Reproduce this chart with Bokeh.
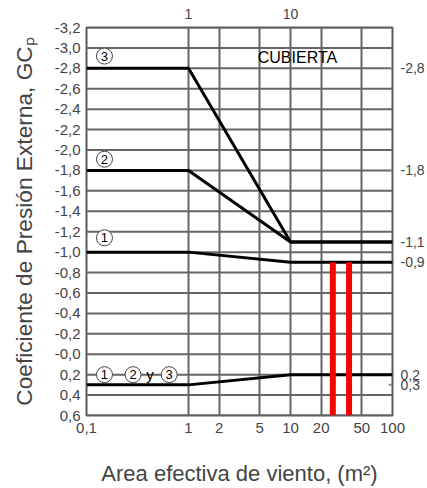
from bokeh.plotting import figure
from bokeh.models import Range1d, FixedTicker, LogAxis, LinearAxis
from bokeh.embed import file_html
from bokeh.resources import INLINE
from bokeh.core.properties import value

# ---- data ----
area = [0.1, 1, 10, 100]
zona3 = [-2.8, -2.8, -1.1, -1.1]
zona2 = [-1.8, -1.8, -1.1, -1.1]
zona1 = [-1.0, -1.0, -0.9, -0.9]
zonas_positiva = [0.3, 0.3, 0.2, 0.2]
areas_marcadas = [26, 37.5]

x_ticks = [0.1, 1, 2, 5, 10, 20, 50, 100]
x_labels = ["0,1", "1", "2", "5", "10", "20", "50", "100"]
x_top_ticks = [1, 10]
x_top_labels = ["1", "10"]
y_ticks = [-3.2, -3.0, -2.8, -2.6, -2.4, -2.2, -2.0, -1.8, -1.6, -1.4,
           -1.2, -1.0, -0.8, -0.6, -0.4, -0.2, 0.0, 0.2, 0.4, 0.6]
y_labels = ["-3,2", "-3,0", "-2,8", "-2,6", "-2,4", "-2,2", "-2,0", "-1,8",
            "-1,6", "-1,4", "-1,2", "-1,0", "-0,8", "-0,6", "-0,4", "-0,2",
            "-0,0", "0,2", "0,4", "0,6"]
y_right_ticks = [-2.8, -1.8, -1.1, -0.9, 0.2, 0.3]
y_right_labels = ["-2,8", "-1,8", "-1,1", "-0,9", "0,2", "0,3"]

zona_etiquetas = ["3", "2", "1", "1", "2", "3"]
# annotation anchor positions (layout)
etiqueta_x = [0.15, 0.15, 0.15, 0.15, 0.286, 0.647]
etiqueta_y = [-2.92, -1.91, -1.14, 0.2, 0.2, 0.2]

FONT = "Liberation Sans"
GRID = "#666666"
GRID_W = 2

p = figure(width=427, height=488, x_axis_type="log",
           x_range=Range1d(x_ticks[0], x_ticks[-1]),
           y_range=Range1d(y_ticks[-1], y_ticks[0]),
           output_backend="svg", toolbar_location=None,
           min_border_left=86, min_border_right=34,
           min_border_top=27, min_border_bottom=72,
           outline_line_color="#5a5a5a", outline_line_width=2)

# bottom axis
xa = p.xaxis[0]
xa.ticker = FixedTicker(ticks=x_ticks)
xa.major_label_overrides = dict(zip(x_ticks, x_labels))
xa.axis_label = "Area efectiva de viento, (m\u00b2)"
xa.axis_label_text_font = FONT
xa.axis_label_text_font_size = "22px"
xa.axis_label_text_font_style = "normal"
xa.axis_label_standoff = 25
xa.major_label_text_font = FONT
xa.major_label_text_font_size = "15px"
xa.major_label_standoff = 7
xa.major_tick_out = 0
xa.major_tick_in = 0
xa.minor_tick_out = 0
xa.minor_tick_in = 0
xa.axis_line_color = None

# left axis
ya = p.yaxis[0]
ya.ticker = FixedTicker(ticks=y_ticks)
ya.major_label_overrides = dict(zip(y_ticks, y_labels))
ya.axis_label = "Coeficiente de Presi\u00f3n Externa, GC\u209a"
ya.axis_label_text_font = FONT
ya.axis_label_text_font_size = "22.7px"
ya.axis_label_text_font_style = "normal"
ya.axis_label_standoff = 15
ya.major_label_text_font = FONT
ya.major_label_text_font_size = "15px"
ya.major_label_standoff = 6
ya.major_tick_out = 0
ya.major_tick_in = 0
ya.minor_tick_out = 0
ya.minor_tick_in = 0
ya.axis_line_color = None

# top axis
top = LogAxis(ticker=FixedTicker(ticks=x_top_ticks),
              major_label_overrides=dict(zip(x_top_ticks, x_top_labels)),
              major_label_text_font=FONT, major_label_text_font_size="14px",
              major_label_standoff=9, major_tick_out=0, major_tick_in=0,
              minor_tick_out=0, minor_tick_in=0, axis_line_color=None)
p.add_layout(top, "above")

# right axis
right = LinearAxis(ticker=FixedTicker(ticks=y_right_ticks),
                   major_label_overrides=dict(zip(y_right_ticks, y_right_labels)),
                   major_label_text_font=FONT, major_label_text_font_size="14px",
                   major_label_standoff=8, major_tick_out=0, major_tick_in=0,
                   minor_tick_out=0, minor_tick_in=0, axis_line_color=None)
p.add_layout(right, "right")

# vertical grid from the library grid
p.xgrid.ticker = FixedTicker(ticks=x_ticks)
p.xgrid.grid_line_color = GRID
p.xgrid.grid_line_width = GRID_W
p.xgrid.grid_line_alpha = 1.0
p.ygrid.visible = False
# horizontal grid lines (inverted range) drawn as lines through the scales
p.multi_line(xs=[[x_ticks[0], x_ticks[-1]] for _ in y_ticks],
             ys=[[t, t] for t in y_ticks],
             line_color=GRID, line_width=GRID_W)
# short inward tick of the right-hand scale
p.multi_line(xs=[[x_ticks[-1] * 0.92, x_ticks[-1]] for _ in y_right_ticks],
             ys=[[t, t] for t in y_right_ticks],
             line_color="#888888", line_width=2)

# curves
for serie in (zona3, zona2, zona1, zonas_positiva):
    p.line(area, serie, line_color="black", line_width=3)

# red markers
p.segment(x0=areas_marcadas, y0=[zona1[-1]] * len(areas_marcadas),
          x1=areas_marcadas, y1=[y_ticks[-1]] * len(areas_marcadas),
          line_color="#ff0000", line_width=6)

# zone labels
p.scatter(etiqueta_x, etiqueta_y, marker="circle", size=16,
          fill_color="white", line_color="#444444", line_width=1)
p.text(etiqueta_x, etiqueta_y, text=zona_etiquetas, text_align="center",
       text_baseline="middle", text_font=value(FONT), text_font_size="13px",
       text_color="black")
p.text([0.42], [0.2], text=["y"], text_align="center", text_baseline="middle",
       text_font=value(FONT), text_font_size="15px", text_color="black")
p.text([11.7], [-2.91], text=["CUBIERTA"], text_align="center",
       text_baseline="middle", text_font=value(FONT), text_font_size="16px",
       text_color="black")

open("out.html", "w").write(file_html(p, INLINE))
